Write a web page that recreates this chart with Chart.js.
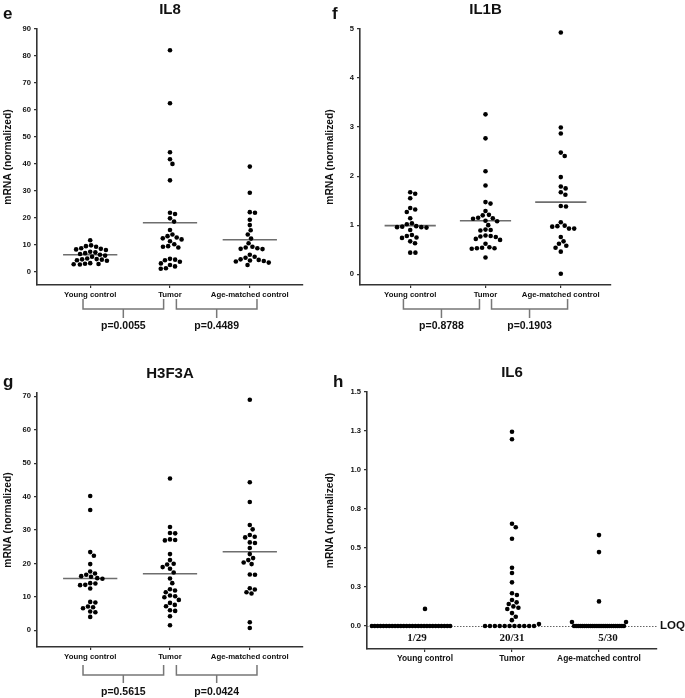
<!DOCTYPE html>
<html>
<head>
<meta charset="utf-8">
<script src="https://cdn.jsdelivr.net/npm/chart.js@4.4.1/dist/chart.umd.min.js"></script>
<style>
  body { margin: 0; background: #fff; }
  #wrap { position: relative; width: 685px; height: 698px; }
  canvas { position: absolute; }
</style>
</head>
<body>
<div id="wrap">
  <canvas id="il8" width="322" height="340" style="left:0px;top:0px"></canvas>
  <canvas id="il1b" width="363" height="340" style="left:322px;top:0px"></canvas>
  <canvas id="h3f3a" width="322" height="358" style="left:0px;top:340px"></canvas>
  <canvas id="il6" width="363" height="358" style="left:322px;top:340px"></canvas>
</div>
<script>
const categories = ['Young control', 'Tumor', 'Age-matched control'];

// IL8
const il8Young = [11.7, 9.8, 9.5, 9.3, 8.7, 8.5, 8.3, 8.1, 7.4, 7.2, 6.9, 6.6, 6.3, 6.0, 5.6, 4.9, 4.7, 4.6, 4.5, 4.3, 4.1, 3.2, 3.0, 2.9, 2.8, 2.7];
const il8Tumor = [82.1, 62.5, 44.3, 41.7, 40.0, 33.9, 21.9, 21.4, 19.8, 18.6, 15.5, 13.8, 13.2, 12.7, 12.4, 12.0, 11.3, 10.2, 9.5, 9.3, 9.0, 4.8, 4.5, 4.3, 3.7, 3.1, 2.5, 2.0, 1.3, 1.1];
const il8Aged = [39.0, 29.3, 22.1, 21.9, 19.3, 17.3, 15.4, 13.8, 12.3, 10.6, 9.3, 9.0, 8.7, 8.5, 8.4, 6.3, 5.6, 5.2, 4.6, 4.4, 4.2, 4.0, 3.8, 3.4, 2.5];
const il8Means = [6.3, 18.2, 11.9];
const il8PValues = ['p=0.0055', 'p=0.4489'];
const il8Ticks = [0, 10, 20, 30, 40, 50, 60, 70, 80, 90];

// IL1B
const il1bYoung = [1.67, 1.64, 1.55, 1.35, 1.32, 1.27, 1.14, 1.04, 1.02, 0.98, 0.97, 0.96, 0.96, 0.95, 0.90, 0.80, 0.78, 0.75, 0.74, 0.67, 0.63, 0.44, 0.44];
const il1bTumor = [3.26, 2.77, 2.10, 1.81, 1.47, 1.44, 1.29, 1.21, 1.20, 1.15, 1.14, 1.13, 1.09, 1.08, 1.00, 0.91, 0.90, 0.89, 0.79, 0.78, 0.77, 0.76, 0.72, 0.70, 0.62, 0.55, 0.54, 0.53, 0.52, 0.53, 0.34];
const il1bAged = [4.93, 2.99, 2.87, 2.48, 2.41, 1.98, 1.79, 1.75, 1.67, 1.62, 1.39, 1.38, 1.06, 0.99, 0.98, 0.97, 0.93, 0.93, 0.76, 0.67, 0.62, 0.58, 0.54, 0.46, 0.01];
const il1bMeans = [0.99, 1.09, 1.47];
const il1bPValues = ['p=0.8788', 'p=0.1903'];
const il1bTicks = [0, 1, 2, 3, 4, 5];

// H3F3A
const h3Young = [40.2, 36.0, 23.4, 22.3, 19.8, 17.6, 17.0, 16.6, 16.2, 16.0, 15.6, 15.4, 14.1, 14.0, 13.6, 13.5, 12.5, 8.5, 8.3, 7.1, 6.9, 6.6, 5.6, 5.4, 4.0];
const h3Tumor = [45.4, 30.9, 29.1, 29.0, 27.2, 27.0, 26.9, 22.8, 21.0, 19.9, 19.7, 18.9, 18.4, 17.3, 15.5, 14.1, 12.3, 11.9, 11.4, 10.4, 10.2, 9.9, 9.1, 8.2, 7.6, 7.2, 6.0, 5.8, 4.2, 1.5];
const h3Aged = [69.0, 44.3, 38.4, 31.5, 30.2, 28.5, 28.0, 27.8, 26.3, 26.1, 24.6, 22.8, 21.6, 21.0, 20.3, 19.8, 16.7, 16.6, 12.6, 12.2, 11.4, 11.0, 2.4, 0.7];
const h3Means = [15.5, 16.9, 23.5];
const h3PValues = ['p=0.5615', 'p=0.0424'];
const h3Ticks = [0, 10, 20, 30, 40, 50, 60, 70];

// IL6 (values above the LOQ, plus how many fell below it)
const il6Young = [0.11];
const il6Tumor = [1.245, 1.197, 0.656, 0.633, 0.56, 0.374, 0.34, 0.28, 0.21, 0.199, 0.167, 0.152, 0.141, 0.126, 0.117, 0.109, 0.083, 0.06, 0.038, 0.013];
const il6Aged = [0.583, 0.474, 0.158, 0.026, 0.026];
const il6BelowLoq = [28, 11, 25];
const il6Counts = ['1/29', '20/31', '5/30'];
const il6Ticks = [0, 0.25, 0.5, 0.75, 1.0, 1.25, 1.5];

const FONT = '"Liberation Sans", Arial, sans-serif';
const DOT_R = 2.3;
const DOT_GAP = 5.2;
const MEAN_HALF = 0.34;

const panels = [
  { id: 'il8', letter: 'e', title: 'IL8', groups: [il8Young, il8Tumor, il8Aged], means: il8Means,
    pValues: il8PValues, ticks: il8Ticks, digits: 0, yMin: -4.9, yMax: 90,
    area: { left: 37, top: 29, right: 303, bottom: 285 }, letterAt: [3, 19],
    bracket: [14, 24, 33, 41], tickFont: 7.8 },
  { id: 'il1b', letter: 'f', title: 'IL1B', groups: [il1bYoung, il1bTumor, il1bAged], means: il1bMeans,
    pValues: il1bPValues, ticks: il1bTicks, digits: 0, yMin: -0.22, yMax: 5,
    area: { left: 38, top: 29, right: 289, bottom: 285 }, letterAt: [10, 19],
    bracket: [14, 24, 33, 41], tickFont: 7.8 },
  { id: 'h3f3a', letter: 'g', title: 'H3F3A', groups: [h3Young, h3Tumor, h3Aged], means: h3Means,
    pValues: h3PValues, ticks: h3Ticks, digits: 0, yMin: -5, yMax: 71,
    area: { left: 37, top: 53, right: 303, bottom: 307 }, letterAt: [3, 47],
    bracket: [18, 28, 36, 45], tickFont: 7.8 },
  { id: 'il6', letter: 'h', title: 'IL6', groups: [il6Young, il6Tumor, il6Aged], means: null,
    pValues: null, ticks: il6Ticks, digits: 1, yMin: -0.147, yMax: 1.5,
    area: { left: 45, top: 52, right: 335, bottom: 309 }, letterAt: [11, 47],
    tickFont: 8.4,
    loq: { below: il6BelowLoq, counts: il6Counts, bin: 0.03,
           spacing: [2.9, 4.9, 2.08], shift: [-14, 0, 0], countShift: [-8, 0, 9] } }
];

// simple beeswarm: returns pixel offsets from the category centre
function swarm(values, ys) {
  const order = values.map((v, i) => i).sort((a, b) => values[b] - values[a]);
  const placed = [];
  const offs = new Array(values.length).fill(0);
  for (const i of order) {
    const y = ys.getPixelForValue(values[i]);
    const near = placed.filter(p => Math.abs(p.y - y) < DOT_GAP);
    const cands = [0];
    for (const p of near) {
      const dx = Math.sqrt(DOT_GAP * DOT_GAP - (p.y - y) * (p.y - y));
      cands.push(p.x + dx, p.x - dx);
    }
    cands.sort((a, b) => Math.abs(a) - Math.abs(b));
    let best = 0;
    for (const c of cands) {
      if (near.every(p => (p.x - c) ** 2 + (p.y - y) ** 2 >= DOT_GAP * DOT_GAP - 0.01)) { best = c; break; }
    }
    placed.push({ x: best, y: y });
    offs[i] = best;
  }
  return offs;
}

function makePanel(p) {
  const canvas = document.getElementById(p.id);
  const W = canvas.width, H = canvas.height;

  const datasets = [{
    data: [], pointRadius: DOT_R, pointBackgroundColor: '#000', pointBorderWidth: 0, showLine: false
  }];
  (p.means || []).forEach((m, g) => datasets.push({
    data: [{ x: g + 1 - MEAN_HALF, y: m }, { x: g + 1 + MEAN_HALF, y: m }],
    showLine: true, borderColor: '#6e6e6e', borderWidth: 1.6, pointRadius: 0
  }));

  const extras = {
    id: 'extras',
    beforeDatasetsDraw(chart) {
      if (!p.loq) return;
      const ctx = chart.ctx, a = chart.chartArea;
      const y0 = Math.round(chart.scales.y.getPixelForValue(0)) + 0.5;
      ctx.save();
      ctx.strokeStyle = '#666';
      ctx.lineWidth = 1;
      ctx.setLineDash([1.5, 1.5]);
      ctx.beginPath();
      ctx.moveTo(a.left, y0);
      ctx.lineTo(a.right + 1, y0);
      ctx.stroke();
      ctx.restore();
    },
    afterDraw(chart) {
      const ctx = chart.ctx, a = chart.chartArea, xs = chart.scales.x;
      ctx.save();
      ctx.fillStyle = '#111';
      ctx.font = 'bold 17px ' + FONT;
      ctx.textAlign = 'left';
      ctx.textBaseline = 'alphabetic';
      ctx.fillText(p.letter, p.letterAt[0], p.letterAt[1]);

      ctx.font = 'bold 15px ' + FONT;
      ctx.textAlign = 'center';
      ctx.textBaseline = 'middle';
      ctx.fillText(p.title, (a.left + a.right) / 2, a.top - 19);

      if (p.pValues) {
        const [t, h, tk, tx] = p.bracket;
        const spans = [[0.91, 1.92], [2.08, 3.09]];
        ctx.strokeStyle = '#777';
        ctx.lineWidth = 1.5;
        spans.forEach((s, k) => {
          const x1 = xs.getPixelForValue(s[0]), x2 = xs.getPixelForValue(s[1]);
          const xm = (x1 + x2) / 2;
          ctx.beginPath();
          ctx.moveTo(x1, a.bottom + t);
          ctx.lineTo(x1, a.bottom + h);
          ctx.lineTo(x2, a.bottom + h);
          ctx.lineTo(x2, a.bottom + t);
          ctx.moveTo(xm, a.bottom + h);
          ctx.lineTo(xm, a.bottom + tk);
          ctx.stroke();
          ctx.font = 'bold 10.5px ' + FONT;
          ctx.fillText(p.pValues[k], xm, a.bottom + tx);
        });
      }

      if (p.loq) {
        const y0 = chart.scales.y.getPixelForValue(0);
        ctx.font = 'bold 11.5px ' + FONT;
        ctx.textAlign = 'left';
        ctx.fillText('LOQ', a.right + 3, y0);
        ctx.font = 'bold 11px "Liberation Serif", "Times New Roman", serif';
        ctx.textAlign = 'center';
        p.loq.counts.forEach((c, g) => {
          ctx.fillText(c, xs.getPixelForValue(g + 1) + p.loq.countShift[g], a.bottom - 11);
        });
      }
      ctx.restore();
    }
  };

  const chart = new Chart(canvas, {
    type: 'scatter',
    data: { datasets: datasets },
    options: {
      responsive: false,
      animation: false,
      events: [],
      layout: { padding: { left: 0, top: p.area.top, right: W - p.area.right, bottom: 0 } },
      plugins: { legend: { display: false }, tooltip: { enabled: false } },
      scales: {
        x: {
          type: 'linear', min: 1 / 3, max: 11 / 3,
          afterBuildTicks: s => { s.ticks = [1, 2, 3].map(v => ({ value: v })); },
          afterFit: s => { s.height = H - p.area.bottom; },
          ticks: {
            callback: (v, i) => categories[i],
            font: { family: FONT, size: p.tickFont, weight: 'bold' },
            color: '#111', padding: 2, maxRotation: 0, autoSkip: false
          },
          grid: { display: true, drawOnChartArea: false, drawTicks: true, tickLength: 3, color: '#333', lineWidth: 1.2 },
          border: { display: true, color: '#333', width: 1.6 }
        },
        y: {
          min: p.yMin, max: p.yMax,
          afterBuildTicks: s => { s.ticks = p.ticks.map(v => ({ value: v })); },
          afterFit: s => { s.width = p.area.left; },
          ticks: {
            callback: v => Number(v).toFixed(p.digits),
            font: { family: FONT, size: 7.6, weight: 'bold' },
            color: '#111', padding: 3
          },
          grid: { display: true, drawOnChartArea: false, drawTicks: true, tickLength: 3, color: '#333', lineWidth: 1.2 },
          border: { display: true, color: '#333', width: 1.6 },
          title: {
            display: true, text: 'mRNA (normalized)', color: '#111',
            font: { family: FONT, size: 10.3, weight: 'bold' }, padding: { top: 2, bottom: 0 }
          }
        }
      }
    },
    plugins: [extras]
  });

  // place the dots now that the scales are known
  const xs = chart.scales.x, ys = chart.scales.y;
  const unit = xs.getPixelForValue(2) - xs.getPixelForValue(1);
  const pts = [];
  p.groups.forEach((vals, g) => {
    let rest = vals;
    if (p.loq) {
      const small = vals.filter(v => v < p.loq.bin).sort((a, b) => a - b);
      rest = vals.filter(v => v >= p.loq.bin);
      const row = new Array(p.loq.below[g]).fill(0);
      small.forEach((v, k) => { if (k % 2 === 0) row.push(v); else row.unshift(v); });
      row.forEach((v, k) => {
        const off = (k - (row.length - 1) / 2) * p.loq.spacing[g] + p.loq.shift[g];
        pts.push({ x: g + 1 + off / unit, y: v });
      });
    }
    const offs = swarm(rest, ys);
    rest.forEach((v, i) => pts.push({ x: g + 1 + offs[i] / unit, y: v }));
  });
  chart.data.datasets[0].data = pts;
  chart.update('none');
}

panels.forEach(makePanel);
</script>
</body>
</html>
